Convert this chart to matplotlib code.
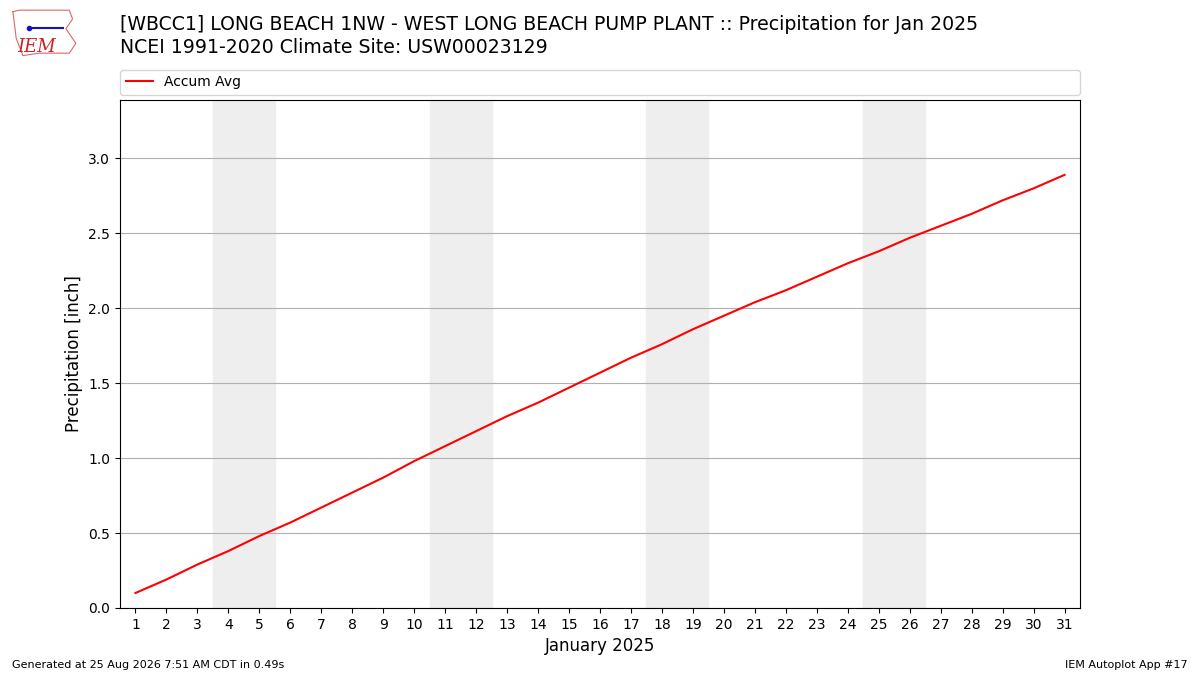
import numpy as np
import matplotlib
matplotlib.use('Agg')
import matplotlib.pyplot as plt

days = list(range(1, 32))
accum_avg = [0.10, 0.19, 0.29, 0.38, 0.48, 0.57, 0.67, 0.77, 0.87, 0.98,
             1.08, 1.18, 1.28, 1.37, 1.47, 1.57, 1.67, 1.76, 1.86, 1.95,
             2.04, 2.12, 2.21, 2.30, 2.38, 2.47, 2.55, 2.63, 2.72, 2.80, 2.89]
weekends = [(4, 5), (11, 12), (18, 19), (25, 26)]

fig = plt.figure(figsize=(12, 6.75), dpi=100)
ax = fig.add_axes([0.1, 0.0993, 0.8, 0.7526])

for start, end in weekends:
    ax.axvspan(start - 0.5, end + 0.5, color='#eeeeee', zorder=0)

ax.plot(days, accum_avg, color='red', lw=1.5, label='Accum Avg', zorder=3)

ax.set_xlim(0.5, 31.5)
ax.set_ylim(0, 3.39)
ax.set_xticks(days)
ax.set_yticks(np.arange(0, 3.01, 0.5))
ax.yaxis.grid(True, color='#b0b0b0', lw=0.8)
ax.set_axisbelow(True)
ax.set_xlabel('January 2025', fontsize=12)
ax.set_ylabel('Precipitation [inch]', fontsize=12)

ax.legend(loc='lower left', bbox_to_anchor=(0, 1.01, 1, 0.048), mode='expand',
          ncol=1, fontsize=10, borderaxespad=0)

fig.text(0.1, 0.978, '[WBCC1] LONG BEACH 1NW - WEST LONG BEACH PUMP PLANT :: Precipitation for Jan 2025\n'
         'NCEI 1991-2020 Climate Site: USW00023129', fontsize=13.6, va='top', ha='left',
         linespacing=1.25)

# stand-in for the IEM logo
logo = fig.add_axes([0.008, 0.914, 0.058, 0.076])
logo.plot([0.05, 0.15, 0.9, 0.95, 0.85, 1.0, 0.9, 0.45, 0.2, 0.1, 0.05],
          [0.95, 0.98, 0.98, 0.8, 0.6, 0.3, 0.1, 0.1, 0.05, 0.4, 0.95],
          color='#e06666', lw=0.8)
logo.plot([0.3, 0.8], [0.62, 0.62], color='#1111cc', lw=1.5)
logo.plot([0.3], [0.62], 'o', color='#1111cc', ms=3)
logo.text(0.4, 0.22, 'IEM', fontsize=13, color='#cc2222', style='italic',
          family='DejaVu Serif', ha='center', va='center')
logo.set_xlim(0, 1.05)
logo.set_ylim(0, 1.05)
logo.axis('off')

fig.text(0.01, 0.01, 'Generated at 25 Aug 2026 7:51 AM CDT in 0.49s', fontsize=8)
fig.text(0.99, 0.01, 'IEM Autoplot App #17', fontsize=8, ha='right')

fig.savefig('out.png', dpi=100)
plt.close()
